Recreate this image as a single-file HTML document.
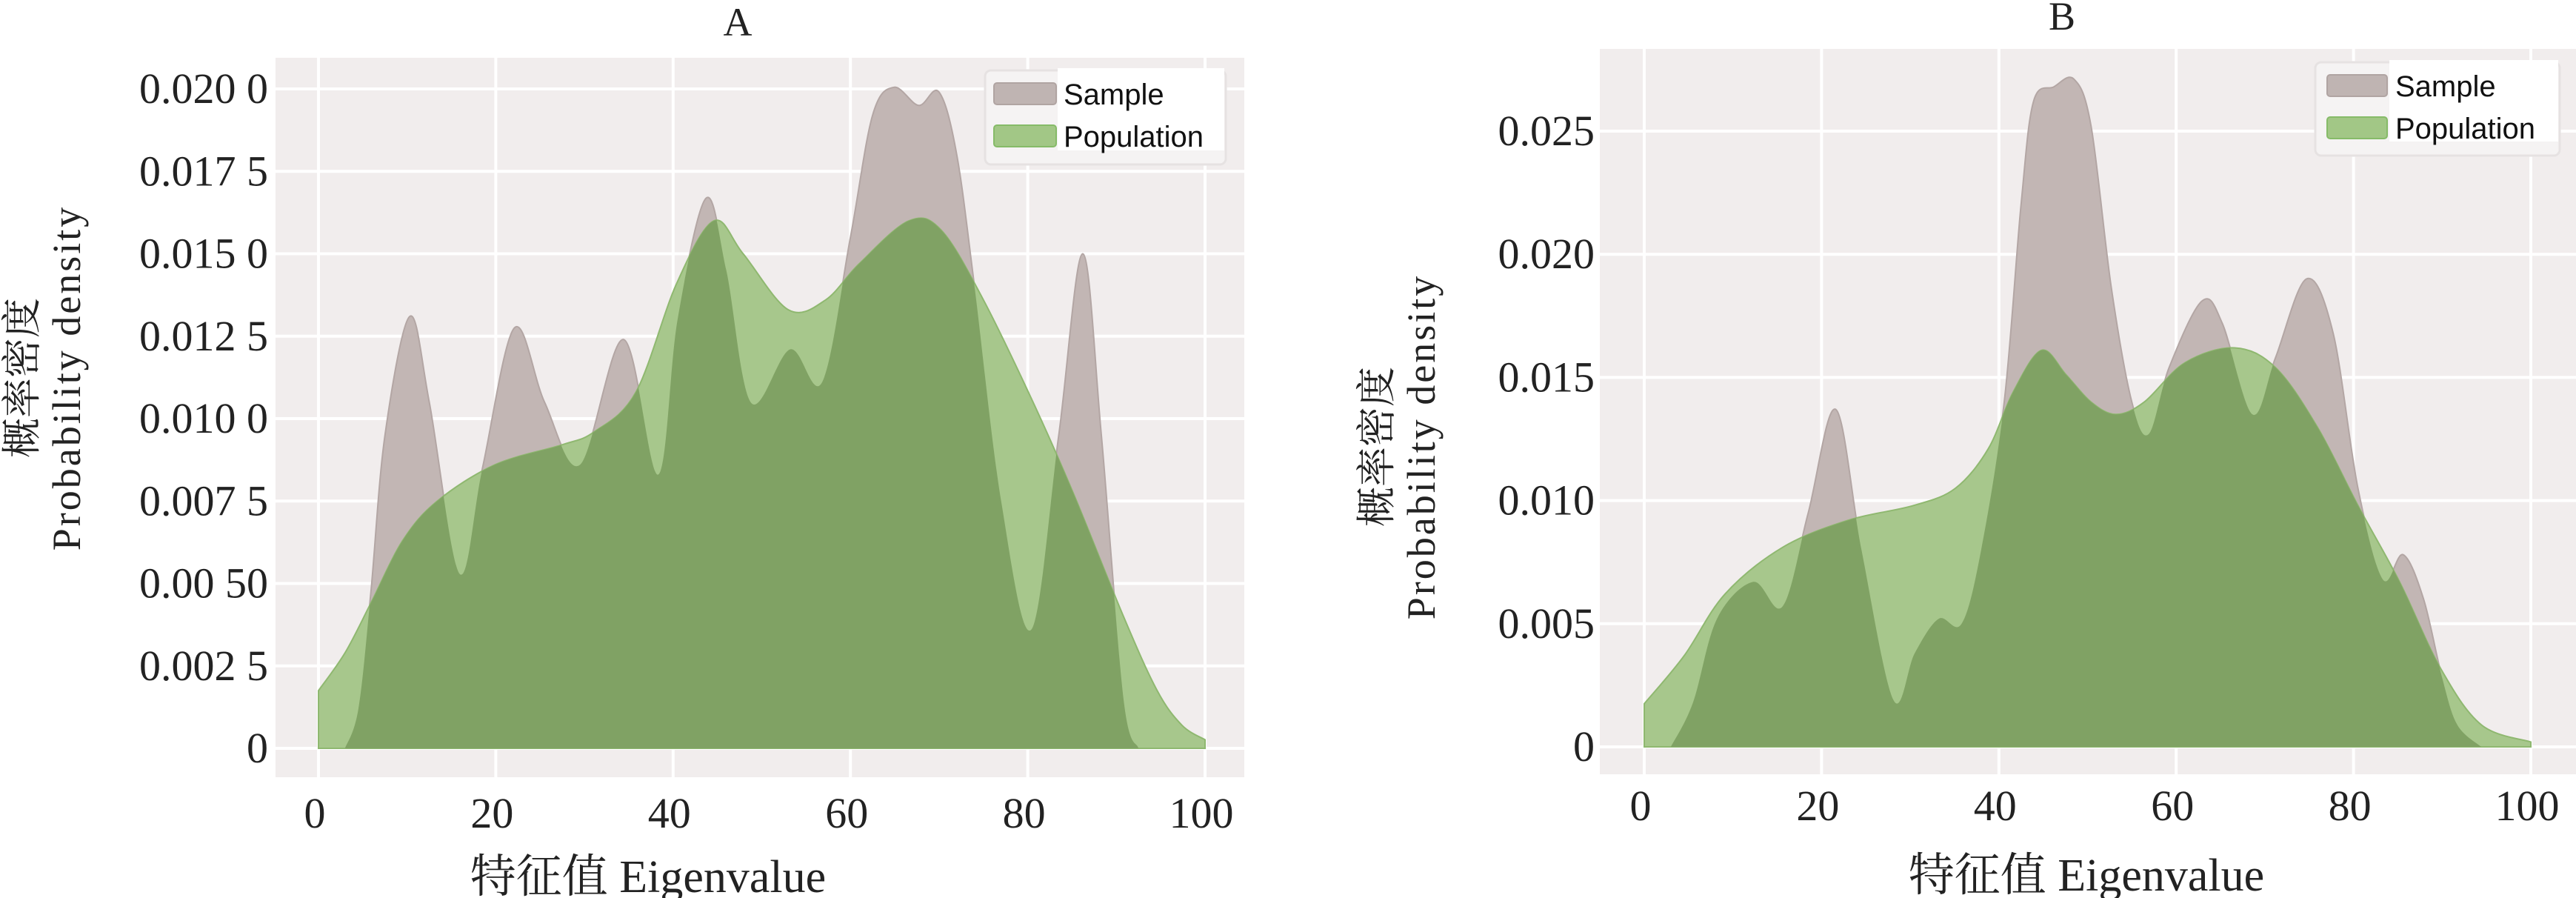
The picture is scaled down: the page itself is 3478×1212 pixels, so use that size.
<!DOCTYPE html>
<html><head><meta charset="utf-8"><style>
html,body{margin:0;padding:0;background:#fff;}
svg{display:block;}
.tk{font-family:"Liberation Serif","Noto Serif CJK SC",serif;font-size:58px;fill:#222;}
.lab{font-family:"Liberation Serif","Noto Serif CJK SC",serif;fill:#222;}
.lg{font-family:"Liberation Sans",sans-serif;font-size:40px;fill:#111;}
</style></head><body>
<svg id="s" width="3478" height="1212" viewBox="0 0 3478 1212" xmlns="http://www.w3.org/2000/svg"></svg>
<script>
const svg=document.getElementById('s');
let out='';
function smooth(pts){
  let d='M'+pts[0][0].toFixed(1)+','+pts[0][1].toFixed(1);
  for(let i=0;i<pts.length-1;i++){
    const p0=pts[i-1]||pts[i],p1=pts[i],p2=pts[i+1],p3=pts[i+2]||pts[i+1];
    const c1=[p1[0]+(p2[0]-p0[0])/6,p1[1]+(p2[1]-p0[1])/6];
    const c2=[p2[0]-(p3[0]-p1[0])/6,p2[1]-(p3[1]-p1[1])/6];
    d+='C'+c1[0].toFixed(1)+','+c1[1].toFixed(1)+' '+c2[0].toFixed(1)+','+c2[1].toFixed(1)+' '+p2[0].toFixed(1)+','+p2[1].toFixed(1);
  }
  return d;
}
let cid=0;
function panel(o){
  const X=v=>o.x0+(o.x100-o.x0)*v/100, Y=v=>o.y0-(o.y0-o.yt)*v/o.ytv;
  out+=`<rect x="${o.bg[0]}" y="${o.bg[1]}" width="${o.bg[2]-o.bg[0]}" height="${o.bg[3]-o.bg[1]}" fill="#f1eded"/>`;
  for(let v=0;v<=100;v+=20) out+=`<line x1="${X(v)}" x2="${X(v)}" y1="${o.bg[1]}" y2="${o.bg[3]}" stroke="#fff" stroke-width="4"/>`;
  o.ticks.forEach(t=>{out+=`<line x1="${o.bg[0]}" x2="${o.bg[2]}" y1="${Y(t[0])}" y2="${Y(t[0])}" stroke="#fff" stroke-width="4"/>`;
    out+=`<text class="tk" x="${o.tkx}" y="${Y(t[0])+19}" text-anchor="end">${t[1]}</text>`;});
  for(let v=0;v<=100;v+=20) out+=`<text class="tk" x="${X(v)-5}" y="${o.xly}" text-anchor="middle">${v}</text>`;
  const sp=o.sample.map(p=>[X(p[0]),Y(p[1])]), pp=o.pop.map(p=>[X(p[0]),Y(p[1])]);
  const sd=smooth(sp)+`L${sp[sp.length-1][0]},${o.y0}L${sp[0][0]},${o.y0}Z`;
  const pd=smooth(pp)+`L${X(100)},${o.y0}L${X(0)},${o.y0}Z`;
  cid++;
  out+=`<defs><clipPath id="c${cid}"><path d="${sd}"/></clipPath></defs>`;
  out+=`<path d="${sd}" fill="#c2b6b4" stroke="#b3a6a4" stroke-width="2"/>`;
  out+=`<path d="${pd}" fill="#a7c78c" stroke="#8fb870" stroke-width="2"/>`;
  out+=`<path d="${pd}" fill="#80a264" clip-path="url(#c${cid})"/>`;
  const L=o.leg;
  out+=`<rect x="${L.x}" y="${L.y}" width="${L.w}" height="${L.h}" rx="8" fill="#f5f3f3" stroke="#e6e2e2" stroke-width="3"/>`;
  out+=`<rect x="${L.tx-8}" y="${L.y-3}" width="${L.x+L.w-L.tx+6}" height="${L.h-16}" fill="#fff"/>`;
  out+=`<rect x="${L.px}" y="${L.sy}" width="${L.pw}" height="29" rx="4" fill="#bfb4b2" stroke="#b0a4a2" stroke-width="2"/>`;
  out+=`<rect x="${L.px}" y="${L.sy+57}" width="${L.pw}" height="29" rx="4" fill="#a2c786" stroke="#86bb68" stroke-width="2"/>`;
  out+=`<text class="lg" x="${L.tx}" y="${L.sy+29}">Sample</text>`;
  out+=`<text class="lg" x="${L.tx}" y="${L.sy+86}">Population</text>`;
  out+=`<text class="lab" x="${o.title[0]}" y="${o.title[1]}" font-size="54" text-anchor="middle">${o.t}</text>`;
  out+=`<text class="lab" x="${o.xl[0]}" y="${o.xl[1]}" font-size="62" text-anchor="middle">特征值 Eigenvalue</text>`;
  out+=`<text class="lab" transform="translate(${o.yl1[0]},${o.yl1[1]}) rotate(-90)" font-size="54" text-anchor="middle">概率密度</text>`;
  out+=`<text class="lab" transform="translate(${o.yl2[0]},${o.yl2[1]}) rotate(-90)" font-size="54" text-anchor="middle" letter-spacing="3">Probability density</text>`;
}
panel({t:'A',x0:430,x100:1627,y0:1010,yt:120,ytv:0.02,bg:[372,78,1680,1049],tkx:362,xly:1117,
 title:[996,48],xl:[875,1204],yl1:[48,510],yl2:[108,510],
 ticks:[[0,'0'],[0.0025,'0.002 5'],[0.005,'0.00 50'],[0.0075,'0.007 5'],[0.01,'0.010 0'],[0.0125,'0.012 5'],[0.015,'0.015 0'],[0.0175,'0.017 5'],[0.02,'0.020 0']],
 sample:[[3,0],[4.5,0.0012],[5.9,0.0047],[7.5,0.0095],[10.3,0.0131],[12.5,0.0105],[15.9,0.0053],[18.5,0.0085],[22.1,0.01275],[25.5,0.0105],[29.5,0.0086],[34.4,0.0124],[38.3,0.0083],[40.5,0.013],[43.7,0.01668],[46,0.0145],[48.8,0.01048],[53.2,0.0121],[56.8,0.0111],[60,0.0155],[62.5,0.0192],[64.9,0.02005],[67.7,0.0195],[70,0.0199],[72,0.018],[74,0.014],[77,0.0075],[80.4,0.0036],[83.5,0.0095],[86.2,0.015],[88.3,0.0095],[90.8,0.0015],[92.5,0]],
 pop:[[0,0.00175],[3,0.0029],[5.9,0.0044],[9.5,0.0063],[13.4,0.0075],[19.9,0.0086],[27.4,0.0092],[31.1,0.0096],[35.8,0.0108],[40.4,0.0141],[44.6,0.016],[47.9,0.015],[53,0.0133],[57.2,0.0136],[61,0.0147],[66.6,0.016],[70.3,0.0157],[75,0.0136],[80.6,0.0105],[85.2,0.0077],[90.8,0.004],[94.6,0.00175],[97.4,0.0007],[100,0.00026]],
 leg:{x:1330,y:95,w:325,h:127,tx:1436,px:1342,pw:84,sy:112}});
panel({t:'B',x0:2220,x100:3417,y0:1008,yt:177,ytv:0.025,bg:[2160,66,3478,1045],tkx:2153,xly:1107,
 title:[2784,40],xl:[2817,1202],yl1:[1877,603],yl2:[1937,603],
 ticks:[[0,'0'],[0.005,'0.005'],[0.01,'0.010'],[0.015,'0.015'],[0.02,'0.020'],[0.025,'0.025']],
 sample:[[3,0],[5.5,0.0018],[8.2,0.0052],[12.3,0.0067],[15.6,0.0057],[18.5,0.0095],[21.6,0.0137],[24.5,0.008],[28.1,0.0019],[30.5,0.0038],[33.2,0.0052],[35.8,0.005],[38,0.008],[40.6,0.014],[42.5,0.022],[43.9,0.0262],[46.2,0.0268],[48.5,0.0271],[50.4,0.0252],[52.7,0.0186],[55,0.014],[56.9,0.0127],[59.2,0.0154],[62.9,0.0181],[65.2,0.0172],[68.6,0.0135],[71.2,0.0158],[74.7,0.019],[77.7,0.0168],[80.5,0.0105],[83.3,0.0068],[85.6,0.0078],[87.9,0.006],[90,0.0028],[91.7,0.0009],[94.4,0]],
 pop:[[0,0.00175],[4.5,0.0037],[9.1,0.0062],[15.6,0.0081],[23,0.0092],[30.4,0.0098],[35.1,0.0105],[38.8,0.0121],[41.6,0.0144],[44.8,0.0161],[47.6,0.0151],[50.4,0.014],[53.2,0.0135],[56.4,0.014],[61,0.0156],[66.6,0.0162],[71.2,0.0154],[75.9,0.013],[80.5,0.0098],[85.2,0.0067],[89.8,0.0032],[94.4,0.0009],[100,0.0002]],
 leg:{x:3126,y:84,w:330,h:126,tx:3234,px:3142,pw:81,sy:101}});
svg.innerHTML=out;
</script>
</body></html>
